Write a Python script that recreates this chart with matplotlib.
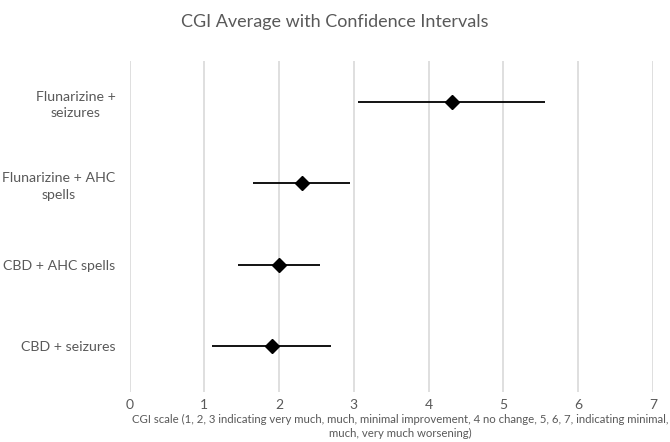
import matplotlib
matplotlib.use("Agg")
import matplotlib.pyplot as plt

categories = ["CBD + seizures", "CBD + AHC spells", "Flunarizine + AHC\nspells", "Flunarizine +\nseizures"]
means = [1.90, 2.00, 2.30, 4.31]
lower = [1.10, 1.45, 1.65, 3.05]
upper = [2.70, 2.55, 2.95, 5.55]
xticks = [0, 1, 2, 3, 4, 5, 6, 7]

plt.rcParams['font.family'] = ['Lato', 'DejaVu Sans']
gray = '#595959'

fig = plt.figure(figsize=(6.7, 4.42), dpi=100)
ax = fig.add_axes([129.5/670, 50/442, (653-129.5)/670, (392-61)/442])

ypos = list(range(len(categories)))
xerr = [[m - l for m, l in zip(means, lower)], [u - m for m, u in zip(means, upper)]]
ax.errorbar(means, ypos, xerr=xerr, fmt='D', color='black', ecolor='black',
            elinewidth=1.3, capsize=0, markersize=7, zorder=3)

ax.set_xlim(0, 7)
ax.set_ylim(-0.566, 3.504)
ax.set_xticks(xticks)
ax.set_xticklabels([str(t) for t in xticks], color=gray, fontsize=10)
ax.set_yticks(ypos)
ax.set_yticklabels(categories, color=gray, fontsize=10.2, multialignment='center', linespacing=1.45)
ax.tick_params(axis='x', length=0, pad=5)
ax.tick_params(axis='y', length=0, pad=10)
ax.grid(axis='x', color='#d9d9d9', linewidth=1.2, zorder=0)
ax.set_axisbelow(True)
for s in ax.spines.values():
    s.set_visible(False)

fig.text(400/670, 1 - 414/442,
         "CGI scale (1, 2, 3 indicating very much, much, minimal improvement, 4 no change, 5, 6, 7, indicating minimal,\nmuch, very much worsening)",
         ha='center', va='top', color=gray, fontsize=8.2, linespacing=1.3, multialignment='center')
fig.text(0.5, 1 - 22/442, "CGI Average with Confidence Intervals", ha='center', va='center',
         color=gray, fontsize=13)

fig.savefig("out.png", dpi=100)
